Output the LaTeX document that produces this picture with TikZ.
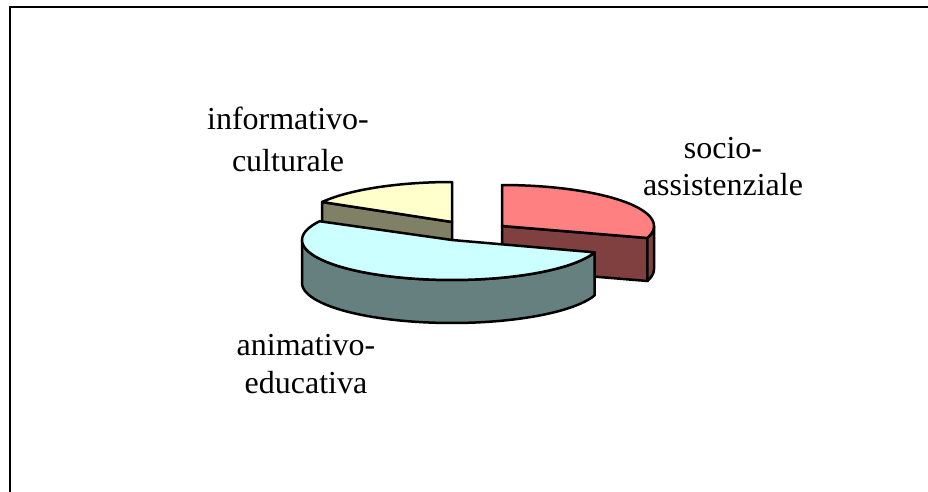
\documentclass[tikz,border=0pt]{standalone}
\usepackage{fontspec}
\setmainfont{Liberation Serif}
\definecolor{pinkTop}{HTML}{FF8080}
\definecolor{pinkSide}{HTML}{804040}
\definecolor{beigeTop}{HTML}{FFFFCC}
\definecolor{beigeSide}{HTML}{808066}
\definecolor{cyanTop}{HTML}{CCFFFF}
\definecolor{cyanSide}{HTML}{668080}
\begin{document}
\begin{tikzpicture}[x=1pt,y=-1pt,
  face/.style={draw=black,line width=2.5pt,line join=round},
  lbl/.style={font=\fontsize{32}{40}\selectfont,align=center,inner sep=0pt}]
\useasboundingbox (0,0) rectangle (928,492);
% frame
\draw[line width=2pt] (10,493) -- (10,7.5) -- (929,7.5);
% beige slice (informativo-culturale)
\filldraw[face,fill=beigeSide] (452,222) -- (322.1,202) -- (322.1,245) -- (452,265) -- cycle;
\filldraw[face,fill=beigeTop] (452,222) -- plot[domain=-150:-90,samples=30] ({452+150*cos(\x)},{222+40*sin(\x)}) -- cycle;
% pink slice (socio-assistenziale)
\filldraw[face,fill=pinkSide] (502,226) -- (647.4,238) -- (647.4,281) -- (502,269) -- cycle;
\filldraw[face,fill=pinkSide] plot[domain=0:17,samples=10] ({502+152*cos(\x)},{226+41*sin(\x)}) -- plot[domain=17:0,samples=10] ({502+152*cos(\x)},{269+41*sin(\x)}) -- cycle;
\filldraw[face,fill=pinkTop] (502,226) -- plot[domain=-90:17,samples=40] ({502+152*cos(\x)},{226+41*sin(\x)}) -- cycle;
% cyan slice (animativo-educativa)
\filldraw[face,fill=cyanSide] plot[domain=18:180,samples=50] ({452+150*cos(\x)},{240+40*sin(\x)}) -- plot[domain=180:18,samples=50] ({452+150*cos(\x)},{283+40*sin(\x)}) -- cycle;
\filldraw[face,fill=cyanTop] (452,240) -- plot[domain=18:208,samples=60] ({452+150*cos(\x)},{240+40*sin(\x)}) -- cycle;
% labels (anchor base = baseline of the last line)
\node[lbl,anchor=base] (info) at (288,171) {informativo-\\[2pt]culturale};
\node[lbl,anchor=base] (socio) at (723,195) {socio-\\[-3pt]assistenziale};
\node[lbl,anchor=base] (anim) at (306,393) {animativo-\\[-2pt]educativa};
\end{tikzpicture}
\end{document}
